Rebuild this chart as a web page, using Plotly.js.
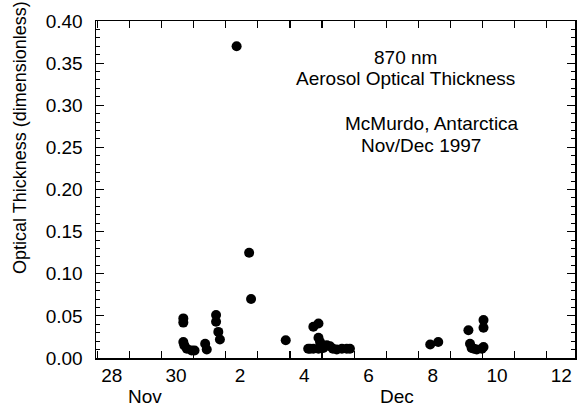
<!DOCTYPE html>
<html>
<head>
<meta charset="utf-8">
<script src="https://cdn.plot.ly/plotly-3.0.1.min.js"></script>
<style>html,body{margin:0;padding:0;background:#fff;}#chart{width:578px;height:406px;}</style>
</head>
<body>
<div id="chart"></div>
<script>
// Day axis: Nov 28 = 28, Nov 30 = 30, Dec 1 = 31, Dec 2 = 32 ... Dec 12 = 42
const dayValues = [
  30.23, 30.23, 30.23, 30.26, 30.34, 30.49, 30.58, 30.91, 30.96,
  31.25, 31.25, 31.32, 31.37,
  31.89, 32.28, 32.34, 33.42,
  34.12, 34.18, 34.28, 34.28, 34.44, 34.44, 34.44, 34.49, 34.59, 34.70, 34.80, 34.89, 35.01, 35.17, 35.32, 35.42,
  37.92, 38.17,
  39.11, 39.16, 39.21, 39.28, 39.37, 39.53, 39.58, 39.58, 39.58
];
const aotValues = [
  0.047, 0.042, 0.019, 0.015, 0.011, 0.009, 0.009, 0.017, 0.010,
  0.051, 0.043, 0.031, 0.022,
  0.370, 0.125, 0.070, 0.021,
  0.011, 0.011, 0.037, 0.011, 0.041, 0.024, 0.011, 0.019, 0.012, 0.015, 0.014, 0.011, 0.010, 0.011, 0.011, 0.011,
  0.016, 0.019,
  0.033, 0.017, 0.012, 0.011, 0.010, 0.011, 0.045, 0.036, 0.013
];
const tickDays = [28, 30, 32, 34, 36, 38, 40, 42];
const tickLabels = ['28', '30', '2', '4', '6', '8', '10', '12'];
const monthDays = [29.04, 36.88];
const monthLabels = ['Nov', 'Dec'];
const noteLines = ['870 nm', 'Aerosol Optical Thickness', 'McMurdo, Antarctica', 'Nov/Dec 1997'];
const yTitle = 'Optical Thickness (dimensionless)';

const W = 578, H = 406, L = 96, R = 575, T = 21, B = 358;
const px = x => (x - L) / (R - L);
const py = y => (B - y) / (B - T);
const fam = 'Arial, "Liberation Sans", sans-serif';
const tickFont = {family: fam, size: 19, color: '#000'};
const noteFont = {family: fam, size: 19, color: '#000'};
const titleFont = {family: fam, size: 18, color: '#000'};

const notePos = [[405, 57], [405, 79], [432, 123], [421, 145]];
const annotations = noteLines.map((t, i) => ({
  text: t, xref: 'paper', yref: 'paper', x: px(notePos[i][0]), y: py(notePos[i][1]),
  xanchor: 'center', yanchor: 'middle', showarrow: false, font: noteFont
}));
monthLabels.forEach((m, i) => annotations.push({
  text: m, xref: 'x', yref: 'paper', x: monthDays[i], y: 0, yshift: -38,
  xanchor: 'center', yanchor: 'middle', showarrow: false, font: tickFont
}));
annotations.push({
  text: yTitle, xref: 'paper', yref: 'paper', x: px(20), y: py(138),
  xanchor: 'center', yanchor: 'middle', textangle: -90, showarrow: false, font: titleFont
});

const trace = {
  x: dayValues, y: aotValues, type: 'scatter', mode: 'markers',
  marker: {color: '#000', size: 10, line: {width: 0}}, hoverinfo: 'none'
};

const layout = {
  width: W, height: H,
  margin: {l: L, r: W - R, t: T, b: H - B, pad: 0},
  paper_bgcolor: '#fff', plot_bgcolor: '#fff',
  showlegend: false, font: tickFont,
  xaxis: {
    range: [27.51, 42.43], tickmode: 'array', tickvals: tickDays, ticktext: tickLabels,
    ticks: '', showgrid: false, zeroline: false, showline: true, linecolor: '#000', linewidth: 1.5,
    mirror: 'allticks', tickfont: tickFont, ticklabelstandoff: 0,
    minor: {tick0: 28.55, dtick: 1, ticks: 'inside', ticklen: 7, tickwidth: 1.2, tickcolor: '#000', showgrid: false}
  },
  yaxis: {
    range: [0, 0.4], tickmode: 'linear', tick0: 0, dtick: 0.05, tickformat: '.2f',
    ticks: 'inside', ticklen: 8, tickwidth: 1.2, tickcolor: '#000',
    showgrid: false, zeroline: false, showline: true, linecolor: '#000', linewidth: 1.5,
    mirror: 'allticks', tickfont: tickFont, ticklabelstandoff: 8,
    minor: {dtick: 0.01, ticks: 'inside', ticklen: 4, tickwidth: 1, tickcolor: '#000', showgrid: false}
  },
  annotations: annotations
};

Plotly.newPlot('chart', [trace], layout, {staticPlot: true, displayModeBar: false});
</script>
</body>
</html>
